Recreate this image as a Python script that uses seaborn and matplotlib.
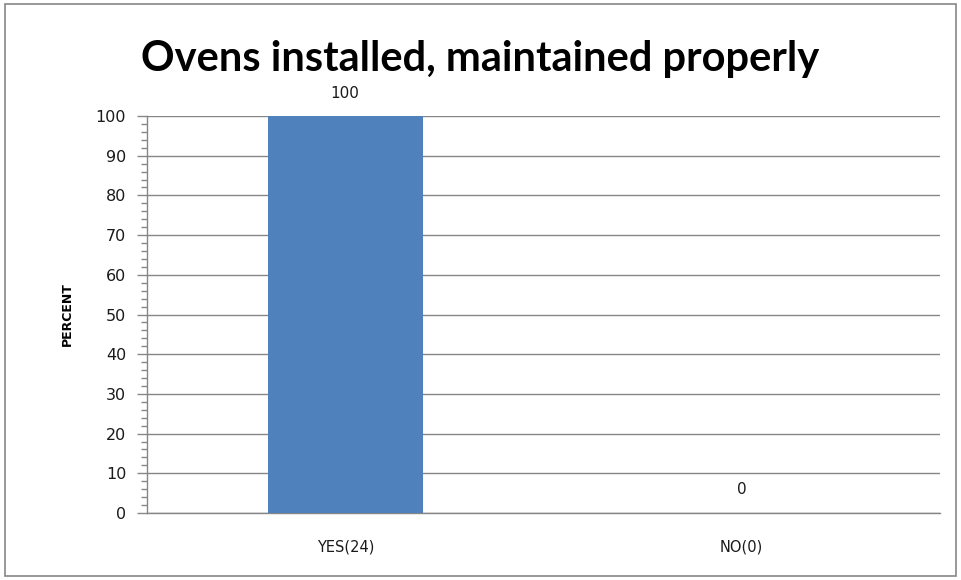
import matplotlib
matplotlib.use("Agg")
import matplotlib.pyplot as plt
import seaborn as sns
import pandas as pd
from matplotlib.ticker import MultipleLocator
from matplotlib.patches import Rectangle

# data
categories = ["YES(24)", "NO(0)"]
percent = [100, 0]

df = pd.DataFrame({"answer": categories, "percent": percent})

sns.set_style("white")
plt.rcParams['font.family'] = ['DejaVu Sans']
plt.rcParams['text.color'] = '#1a1a1a'
plt.rcParams['xtick.labelcolor'] = '#1a1a1a'
plt.rcParams['ytick.labelcolor'] = '#1a1a1a'

fig = plt.figure(figsize=(9.61, 5.80), dpi=100)
ax = fig.add_axes([0.153, 0.1155, 0.825, 0.6845])

sns.barplot(data=df, x="answer", y="percent", color="#4F81BD", width=0.39,
            saturation=1, linewidth=0, ax=ax, zorder=3)

ax.set_ylim(0, 100)
ax.set_xlim(-0.5, 1.5)
ax.yaxis.set_major_locator(MultipleLocator(10))
ax.yaxis.set_minor_locator(MultipleLocator(2))
ax.grid(axis="y", which="major", color="#868686", linewidth=1, zorder=0)
ax.tick_params(axis="y", which="major", direction="out", length=7, width=1,
               color="#868686", labelsize=11.5, left=True, pad=8)
ax.tick_params(axis="y", which="minor", direction="out", length=4, width=1,
               color="#868686", left=True)
ax.tick_params(axis="x", length=0, labelsize=10.5, pad=19)

for s in ["top", "right"]:
    ax.spines[s].set_visible(False)
for s in ["left", "bottom"]:
    ax.spines[s].set_color("#868686")
    ax.spines[s].set_linewidth(1)

ax.set_xlabel("")
ax.set_ylabel("PERCENT", fontsize=9, fontweight="bold", labelpad=16, color="black")

# value labels
for i, v in enumerate(percent):
    ax.annotate(str(v), (i, v), xytext=(0, 11 if v else 17), textcoords="offset points",
                ha="center", va="bottom" if v else "center", fontsize=11,
                annotation_clip=False)

fig.text(0.5, 0.899, "Ovens installed, maintained properly", ha="center",
         va="center", fontsize=30, fontweight="bold", color="black",
         family=["Lato", "DejaVu Sans"])

# chart border
fig.patches.append(Rectangle((0.005, 0.007), 0.99, 0.986, transform=fig.transFigure,
                             fill=False, edgecolor="#868686", linewidth=1.2))

fig.savefig("out.png", dpi=100)
